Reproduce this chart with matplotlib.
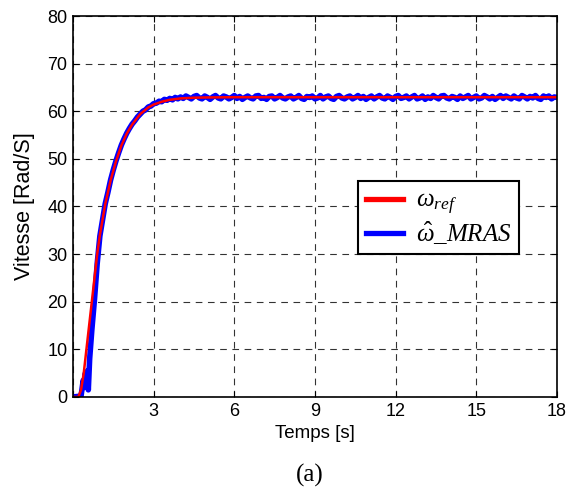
import matplotlib
matplotlib.use('Agg')
import numpy as np
import matplotlib.pyplot as plt

plt.rcParams['font.family'] = ['Liberation Sans', 'DejaVu Sans']
plt.rcParams['mathtext.fontset'] = 'custom'
plt.rcParams['mathtext.rm'] = 'Liberation Serif'
plt.rcParams['mathtext.it'] = 'Liberation Serif:italic'

# reference speed
t_ref = [0, 0.2, 0.3, 0.4, 0.5, 0.6, 0.7, 0.8, 0.9, 1.0, 1.2, 1.4, 1.6, 1.8,
         2.0, 2.2, 2.5, 2.8, 3.0, 3.3, 3.6, 4.0, 4.5, 5.0, 6.0, 18.0]
w_ref = [0, 0, 1.5, 5, 10, 15, 20, 25, 30, 34, 40.5, 45.5, 49.5, 52.8,
         55.3, 57.2, 59.4, 60.8, 61.4, 62.0, 62.4, 62.7, 62.85, 62.9, 62.95, 62.95]

# estimated speed (MRAS), start-up part
t_mras_start = [0, 0.3, 0.38, 0.42, 0.46, 0.5, 0.54, 0.57, 0.62, 0.7, 0.8, 0.9]
w_mras_start = [0, 0.2, 3.5, 2.0, 5.0, 3.0, 5.5, 1.5, 8.0, 14.0, 20.5, 28.0]

# rise, sampled every 0.1 s from 1.0 s to 4.0 s
w_mras_rise = [33.8, 37.2, 40.6, 43.0, 45.6, 47.7, 49.6, 51.3, 52.9, 54.2,
               55.4, 56.4, 57.3, 58.0, 58.8, 59.4, 60.0, 60.3, 60.9, 61.1,
               61.6, 61.7, 62.1, 62.0, 62.5, 62.3, 62.7, 62.4, 62.9, 62.6,
               63.0]

# steady state, sampled every 0.1 s from 4.1 s to 18.0 s
w_mras_flat = [62.7, 63.2, 62.9, 62.6, 63.1, 63.3, 62.8, 62.6, 63.2, 62.9,
               62.5, 63.0, 63.3, 62.8, 62.6, 63.2, 63.0, 62.6, 62.9, 63.3,
               62.7, 63.1, 62.5, 62.9, 63.2, 62.8, 62.6, 63.2, 63.3, 62.7,
               62.9, 62.5, 63.1, 63.2, 62.6, 62.9, 63.3, 62.8, 62.6, 63.0,
               63.2, 62.6, 62.9, 63.3, 62.7, 62.5, 63.1, 62.9, 63.2, 62.6,
               62.8, 63.3, 62.6, 63.0, 63.2, 62.7, 62.5, 63.1, 63.3, 62.8,
               62.6, 63.0, 63.2, 62.6, 62.9, 63.3, 62.7, 63.1, 62.5, 62.9,
               63.2, 62.6, 63.0, 63.3, 62.8, 62.6, 63.2, 62.9, 62.5, 63.1,
               63.3, 62.7, 62.9, 63.2, 62.6, 63.0, 63.3, 62.6, 62.8, 63.2,
               62.5, 63.0, 62.7, 63.3, 62.9, 62.6, 63.2, 63.3, 62.8, 62.6,
               63.1, 62.9, 62.5, 63.2, 62.7, 63.0, 63.3, 62.6, 62.9, 63.2,
               62.6, 62.8, 63.3, 63.0, 62.6, 63.1, 62.5, 62.9, 63.3, 62.7,
               63.2, 62.9, 62.6, 63.2, 62.8, 62.6, 63.3, 63.0, 62.6, 63.1,
               62.8, 63.3, 62.7, 62.5, 63.2, 62.9, 63.2, 62.6, 63.0, 62.9]

x_ticks = [0, 3, 6, 9, 12, 15, 18]
x_tick_labels = ['', '3', '6', '9', '12', '15', '18']
y_ticks = [0, 10, 20, 30, 40, 50, 60, 70, 80]

t_mras = (t_mras_start
          + list(np.round(np.arange(1.0, 4.05, 0.1), 2))
          + list(np.round(np.arange(4.1, 18.05, 0.1), 2)))
w_mras = w_mras_start + w_mras_rise + w_mras_flat

fig = plt.figure(figsize=(5.68, 4.88), dpi=100)
ax = fig.add_axes([0.1285, 0.1865, 0.852, 0.7807])

blue, = ax.plot(t_mras, w_mras, color='#0000ff', lw=4.0, label=r'$\hat{\omega}\_MRAS$')
red, = ax.plot(t_ref, w_ref, color='#ff0000', lw=1.8, label=r'$\omega_{ref}$')

ax.set_xlim(0, 18)
ax.set_ylim(0, 80)
ax.set_xticks(x_ticks)
ax.set_xticklabels(x_tick_labels)
ax.set_yticks(y_ticks)
ax.tick_params(direction='in', top=True, right=True, labelsize=13, length=4, pad=4)
ax.grid(True, color='black', linestyle=(0, (6, 5)), linewidth=0.8, alpha=0.8)
for s in ax.spines.values():
    s.set_linewidth(1.2)

ax.set_xlabel('Temps [s]', fontsize=13.5, labelpad=4)
ax.set_ylabel('Vitesse [Rad/S]', fontsize=15.5, labelpad=9)

leg = ax.legend(handles=[red, blue], loc='upper left', bbox_to_anchor=(0.589, 0.567),
                fontsize=18, frameon=True, fancybox=False, framealpha=1,
                edgecolor='black', handlelength=1.5, handletextpad=0.5,
                borderpad=0.3, labelspacing=0.1, borderaxespad=0)
leg.get_frame().set_linewidth(1.5)
for h in leg.legend_handles:
    h.set_linewidth(3.8)

fig.text(0.546, 0.026, '(a)', fontsize=18, family='Liberation Serif',
         ha='center', va='center')

fig.savefig('out.png', dpi=100)
